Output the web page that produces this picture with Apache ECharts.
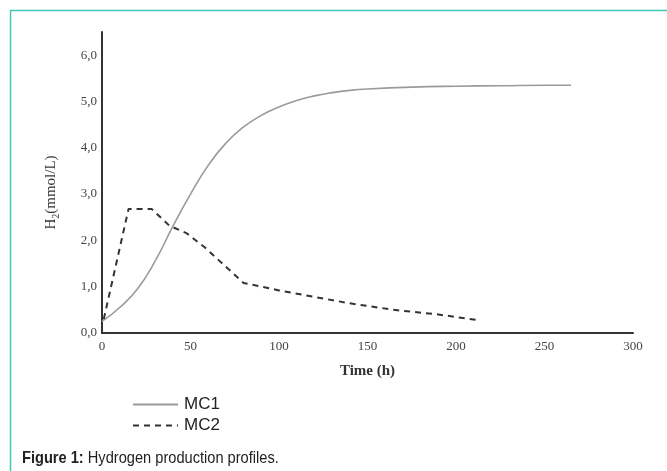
<!DOCTYPE html>
<html>
<head>
<meta charset="utf-8">
<script src="https://cdn.jsdelivr.net/npm/echarts@6/dist/echarts.min.js"></script>
<style>
  html, body { margin: 0; padding: 0; background: #fff; }
  #main { width: 667px; height: 471px; }
</style>
</head>
<body>
<div id="main"></div>
<script>
// values (time in h, H2 in mmol/L)
const mc1Time = [0, 10, 20, 30, 40, 50, 60, 70, 80, 90, 100, 110, 120, 130, 140, 150, 175, 200, 225, 250, 265];
const mc1H2 = [0.25, 0.55, 0.95, 1.55, 2.3, 3.0, 3.62, 4.1, 4.45, 4.7, 4.88, 5.02, 5.12, 5.19, 5.24, 5.27, 5.31, 5.33, 5.34, 5.35, 5.35];
const mc2Time = [1, 15, 28, 38, 48, 58, 68, 80, 100, 120, 140, 165, 190, 212];
const mc2H2 = [0.3, 2.68, 2.68, 2.32, 2.15, 1.85, 1.5, 1.08, 0.92, 0.78, 0.64, 0.5, 0.4, 0.28];
const seriesNames = ['MC1', 'MC2'];
const caption = 'Hydrogen production profiles.';

let chartDom = document.getElementById('main');
let myChart = echarts.init(chartDom);

function pairs(xs, ys) {
    return xs.map((x, i) => [x, ys[i]]);
}

const serif = '"Liberation Serif", "Times New Roman", serif';
const sans = '"Liberation Sans", Arial, sans-serif';

let opt = {
    animation: false,
    backgroundColor: '#fff',
    grid: { left: 102, right: 34, top: 32, bottom: 138 },
    xAxis: {
        type: 'value',
        min: 0, max: 300, interval: 50,
        name: 'Time (h)',
        nameLocation: 'middle',
        nameGap: 31,
        nameTextStyle: { fontFamily: serif, fontSize: 15, fontWeight: 'bold', color: '#333' },
        axisLine: { lineStyle: { color: '#333', width: 2 } },
        axisTick: { show: false },
        splitLine: { show: false },
        axisLabel: { fontFamily: serif, fontSize: 13, color: '#444', margin: 7 }
    },
    yAxis: {
        type: 'value',
        min: 0, max: 6.5, interval: 1,
        name: '{h|H}{s|2}{h|(mmol/L)}',
        nameLocation: 'middle',
        nameGap: 41,
        nameRotate: 90,
        nameTextStyle: {
            padding: [0, 20, 0, 0],
            rich: {
                h: { fontFamily: serif, fontSize: 15, color: '#333' },
                s: { fontFamily: serif, fontSize: 10, color: '#333', padding: [9, 0, 0, 0] }
            }
        },
        axisLine: { show: true, lineStyle: { color: '#333', width: 2 } },
        axisTick: { show: false },
        splitLine: { show: false },
        axisLabel: {
            fontFamily: serif, fontSize: 13, color: '#444', margin: 5,
            showMaxLabel: false,
            formatter: v => Number.isInteger(v) ? v.toFixed(1).replace('.', ',') : ''
        }
    },
    legend: {
        orient: 'vertical',
        left: 127, top: 391,
        itemWidth: 45, itemHeight: 14, itemGap: 4,
        itemStyle: { opacity: 0 },
        textStyle: { fontFamily: sans, fontSize: 17, color: '#222', padding: [0, 0, 0, 1] },
        data: seriesNames
    },
    graphic: [
        {
            type: 'rect',
            shape: { x: 10.5, y: 10.5, width: 700, height: 500 },
            style: { fill: 'none', stroke: '#3ec9b6', lineWidth: 1.5 },
            silent: true
        },
        {
            type: 'text',
            x: 22, y: 450,
            scaleX: 0.86,
            style: {
                text: '{b|Figure 1:} ' + caption,
                font: '17px ' + sans,
                fill: '#222',
                rich: {
                    b: { fontWeight: 'bold', fontSize: 17, fontFamily: sans, fill: '#222' }
                }
            }
        }
    ],
    series: [
        {
            name: seriesNames[0],
            type: 'line',
            smooth: 0.5,
            symbol: 'none',
            lineStyle: { color: '#9a9a9a', width: 1.6 },
            itemStyle: { color: '#9a9a9a' },
            data: pairs(mc1Time, mc1H2)
        },
        {
            name: seriesNames[1],
            type: 'line',
            symbol: 'none',
            lineStyle: { color: '#333', width: 2, type: [6, 5] },
            itemStyle: { color: '#333' },
            data: pairs(mc2Time, mc2H2)
        }
    ]
};
myChart.setOption(opt);
</script>
</body>
</html>
